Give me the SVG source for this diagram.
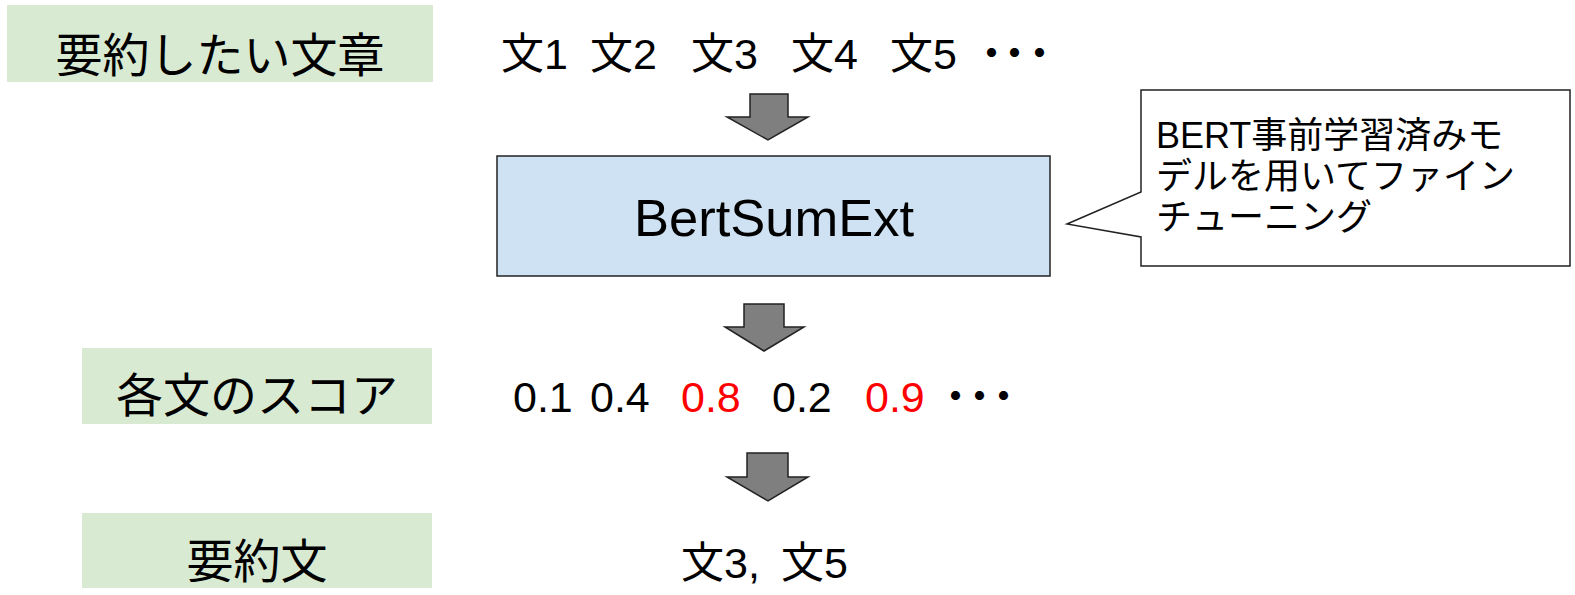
<svg xmlns="http://www.w3.org/2000/svg" width="1575" height="595" viewBox="0 0 1575 595">
  <style>
    .label { fill: #d9ead3; }
    .ja { font-family: "Liberation Sans", "Noto Sans CJK JP", sans-serif; fill: #000; }
    .big { font-size: 47px; }
    .row { font-size: 43px; }
    .red { fill: #ff0000; }
    .model { fill: #cfe2f3; stroke: #222; stroke-width: 1.5; }
    .note { fill: #fff; stroke: #222; stroke-width: 1.5; }
    .arrow { fill: #7f7f7f; stroke: #222; stroke-width: 1.5; stroke-linejoin: miter; }
  </style>

  <!-- row labels -->
  <g id="label-source">
    <rect class="label" x="7" y="5" width="426" height="77"/>
    <text class="ja big" x="220" y="72" text-anchor="middle">要約したい文章</text>
  </g>
  <g id="label-scores">
    <rect class="label" x="82" y="348" width="350" height="76"/>
    <text class="ja big" x="257" y="412" text-anchor="middle">各文のスコア</text>
  </g>
  <g id="label-summary">
    <rect class="label" x="82" y="513" width="350" height="75"/>
    <text class="ja big" x="257" y="578" text-anchor="middle">要約文</text>
  </g>

  <!-- input sentences -->
  <g id="sentences">
    <text class="ja row" y="69"><tspan x="501">文1</tspan><tspan x="590">文2</tspan><tspan x="691">文3</tspan><tspan x="791">文4</tspan><tspan x="890">文5</tspan></text>
    <text class="ja row" x="970 993 1018" y="69">・・・</text>
  </g>

  <!-- model -->
  <g id="model">
    <rect class="model" x="497" y="156" width="553" height="120"/>
    <text class="ja" x="774" y="236" font-size="52.5" text-anchor="middle">BertSumExt</text>
  </g>

  <!-- callout -->
  <g id="note">
    <path class="note" d="M1141,90 H1570 V266 H1141 V237 L1067,224 L1141,192 Z"/>
    <text class="ja" font-size="36" x="1156">
      <tspan x="1156" y="148">BERT事前学習済みモ</tspan>
      <tspan x="1156" y="189">デルを用いてファイン</tspan>
      <tspan x="1156" y="230">チューニング</tspan>
    </text>
  </g>

  <!-- scores -->
  <g id="scores">
    <text class="ja row" y="412"><tspan x="513">0.1</tspan><tspan x="590">0.4</tspan><tspan class="red" x="681">0.8</tspan><tspan x="772">0.2</tspan><tspan class="red" x="865">0.9</tspan></text>
    <text class="ja row" x="934 958 982" y="412">・・・</text>
  </g>

  <!-- result -->
  <g id="result">
    <text class="ja row" y="578"><tspan x="681">文3,</tspan><tspan x="781">文5</tspan></text>
  </g>

  <!-- connectors -->
  <g id="connectors">
    <polygon class="arrow" points="750,94 788,94 788,117 808,117 768,140 727,117 750,117"/>
    <polygon class="arrow" points="744,304 784,304 784,327 804,327 764,351 725,327 744,327"/>
    <polygon class="arrow" points="747,453 788,453 788,477 808,477 768,501 727,477 747,477"/>
  </g>
</svg>
